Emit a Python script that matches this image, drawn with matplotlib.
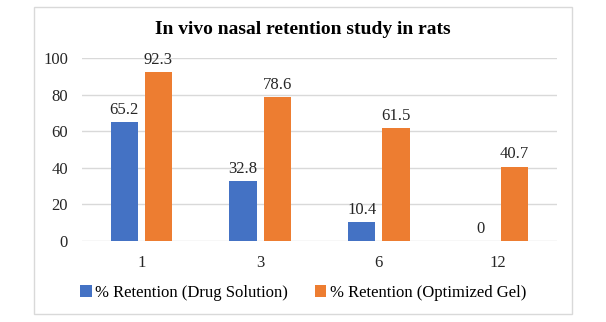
import matplotlib.pyplot as plt
import matplotlib.patches as patches
import numpy as np

plt.rcParams['font.family'] = ['Liberation Serif', 'DejaVu Serif']

categories = ['1', '3', '6', '12']
drug_solution = [65.2, 32.8, 10.4, 0]
optimized_gel = [92.3, 78.6, 61.5, 40.7]
series_names = ['% Retention (Drug Solution)', '% Retention (Optimized Gel)']

blue = '#4472C4'
orange = '#ED7D31'

fig = plt.figure(figsize=(6.06, 3.22), dpi=100)
ax = fig.add_axes([82 / 606, 1 - 241 / 322, 475 / 606, 183 / 322])

# chart frame like the Excel export
fig.patches.append(patches.Rectangle((34 / 606, 1 - 314 / 322), 538 / 606, 307 / 322,
                                     transform=fig.transFigure, fill=False,
                                     edgecolor='#D9D9D9', linewidth=1))

x = np.arange(len(categories))
w = 0.228
gap = 0.06
b1 = ax.bar(x - (w + gap) / 2, drug_solution, w, color=blue, label=series_names[0], zorder=3)
b2 = ax.bar(x + (w + gap) / 2, optimized_gel, w, color=orange, label=series_names[1], zorder=3)

ax.bar_label(b1, labels=[f'{v:g}' for v in drug_solution], padding=3, fontsize=12, color='#262626')
ax.bar_label(b2, labels=[f'{v:g}' for v in optimized_gel], padding=3, fontsize=12, color='#262626')

ax.set_xlim(-0.5, len(categories) - 0.5)
ax.set_ylim(0, 100)
ax.set_yticks(range(0, 101, 20))
ax.set_xticks(x)
ax.set_xticklabels(categories)
ax.tick_params(axis='both', length=0, labelsize=12, colors='#262626')
ax.tick_params(axis='y', pad=10)
ax.tick_params(axis='x', pad=10)
ax.yaxis.grid(True, color='#D9D9D9', linewidth=1, zorder=0)
ax.set_axisbelow(True)
for s in ax.spines.values():
    s.set_visible(False)

fig.text(0.5, 1 - 30 / 322, 'In vivo nasal retention study in rats', ha='center', va='center',
         fontsize=14, fontweight='bold')

fig.legend(loc='center', bbox_to_anchor=(303 / 606, 1 - 293 / 322), ncol=2, frameon=False,
           fontsize=12, handlelength=0.7, handleheight=0.7, handletextpad=0.2,
           columnspacing=1.6, borderaxespad=0)

fig.savefig('out.png', dpi=100)
